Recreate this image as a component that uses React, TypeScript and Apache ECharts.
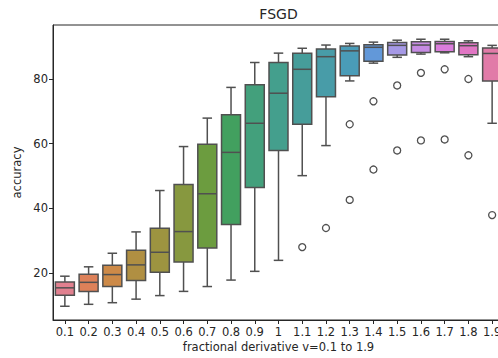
import React, { useEffect, useRef } from "react";
import * as echarts from "echarts";

const categories = ["0.1", "0.2", "0.3", "0.4", "0.5", "0.6", "0.7", "0.8", "0.9", "1", "1.1", "1.2", "1.3", "1.4", "1.5", "1.6", "1.7", "1.8", "1.9"];
const whiskerLow = [9.7, 10.3, 10.8, 11.9, 13.0, 14.3, 15.8, 17.8, 20.5, 23.9, 50.1, 59.4, 79.4, 84.9, 86.7, 87.7, 88.1, 86.9, 66.3];
const q1 = [13.1, 14.3, 15.8, 17.7, 20.2, 23.4, 27.7, 35.0, 46.4, 57.9, 66.0, 74.5, 81.0, 85.5, 87.4, 88.2, 88.4, 87.5, 79.4];
const median = [15.4, 17.1, 19.5, 22.5, 26.4, 32.8, 44.5, 57.3, 66.3, 75.6, 83.0, 86.9, 88.7, 89.8, 90.4, 90.5, 90.9, 90.3, 87.9];
const q3 = [17.2, 19.6, 22.4, 27.0, 33.8, 47.4, 59.8, 68.9, 78.2, 85.1, 88.0, 89.3, 90.2, 90.6, 91.3, 91.5, 91.6, 91.2, 89.6];
const whiskerHigh = [19.0, 21.9, 26.1, 32.7, 45.5, 59.1, 67.9, 77.4, 85.1, 88.0, 89.5, 90.5, 91.0, 91.4, 92.0, 92.3, 92.3, 91.8, 90.4];
const outlierCats = [10, 11, 12, 12, 13, 13, 14, 14, 15, 15, 16, 16, 17, 17, 18];
const outlierValues = [28.0, 33.9, 66.0, 42.6, 73.1, 52.0, 78.0, 57.9, 81.9, 61.0, 83.0, 61.3, 80.0, 56.4, 37.9];
const yTicks = [20, 40, 60, 80];
const boxColors = [
  "#e1808f", "#dd8159", "#cd8a48", "#b08f42", "#9d9440", "#87983f", "#6c9c3f", "#42a05f", "#43a07c", "#449f8d",
  "#469d9a", "#489ca8", "#4a9cb8", "#6298d9", "#a699e6", "#c68be3", "#db7ddc", "#e176c4", "#e17ba8",
];

const LINE = "#505050";
const TEXT = "#262626";
const FONT = "DejaVu Sans";

export default function App() {
  const ref = useRef<HTMLDivElement>(null);
  useEffect(() => {
    if (!ref.current) return;
    const chart = echarts.init(ref.current, undefined, { renderer: "svg" });
    const boxData = categories.map((_, i) => [i, whiskerLow[i], q1[i], median[i], q3[i], whiskerHigh[i]]);
    const outlierData = outlierCats.map((c, i) => [c, outlierValues[i]]);
    const option: any = {
      animation: false,
      grid: { left: 53, top: 25, width: 451, height: 295, show: true, borderColor: "#262626", borderWidth: 1, backgroundColor: "transparent" },
      xAxis: {
        type: "category",
        data: categories,
        boundaryGap: true,
        axisLine: { show: true, lineStyle: { color: "#262626", width: 1 } },
        axisTick: { show: true, alignWithLabel: true, length: 4, lineStyle: { color: "#262626" } },
        axisLabel: { interval: 0, color: TEXT, fontSize: 11.5, fontFamily: FONT, margin: 6, hideOverlap: false },
        splitLine: { show: false },
      },
      yAxis: {
        type: "value",
        min: 5.45,
        max: 96.7,
        axisLine: { show: true, lineStyle: { color: "#262626", width: 1 } },
        axisTick: { show: true, length: 4, customValues: yTicks, lineStyle: { color: "#262626" } },
        axisLabel: { customValues: yTicks, color: TEXT, fontSize: 11.5, fontFamily: FONT, margin: 5 },
        splitLine: { show: false },
      },
      series: [
        {
          type: "custom",
          data: boxData,
          encode: { x: 0, y: [1, 2, 3, 4, 5] },
          renderItem: (params: any, api: any) => {
            const idx = api.value(0);
            const pLo = api.coord([idx, api.value(1)]);
            const pQ1 = api.coord([idx, api.value(2)]);
            const pMed = api.coord([idx, api.value(3)]);
            const pQ3 = api.coord([idx, api.value(4)]);
            const pHi = api.coord([idx, api.value(5)]);
            const band = api.size([1, 0])[0];
            const bw = band * 0.8;
            const cw = bw / 2;
            const cx = pQ1[0];
            const ls = { stroke: LINE, lineWidth: 1.5, fill: "none" };
            return {
              type: "group",
              children: [
                { type: "line", shape: { x1: cx, y1: pQ1[1], x2: cx, y2: pLo[1] }, style: ls },
                { type: "line", shape: { x1: cx, y1: pQ3[1], x2: cx, y2: pHi[1] }, style: ls },
                { type: "line", shape: { x1: cx - cw / 2, y1: pLo[1], x2: cx + cw / 2, y2: pLo[1] }, style: ls },
                { type: "line", shape: { x1: cx - cw / 2, y1: pHi[1], x2: cx + cw / 2, y2: pHi[1] }, style: ls },
                {
                  type: "rect",
                  shape: { x: cx - bw / 2, y: pQ3[1], width: bw, height: pQ1[1] - pQ3[1] },
                  style: { fill: boxColors[idx], stroke: LINE, lineWidth: 1.5 },
                },
                { type: "line", shape: { x1: cx - bw / 2, y1: pMed[1], x2: cx + bw / 2, y2: pMed[1] }, style: ls },
              ],
            };
          },
        },
        {
          type: "scatter",
          data: outlierData,
          symbol: "circle",
          symbolSize: 7,
          itemStyle: { color: "#ffffff", borderColor: LINE, borderWidth: 1.3, opacity: 1 },
          z: 5,
        },
      ],
      graphic: [
        { type: "text", x: 278.5, y: 14, style: { text: "FSGD", fontSize: 14, fontFamily: FONT, fill: TEXT, textAlign: "center", textVerticalAlign: "middle" } },
        { type: "text", x: 278.5, y: 347, style: { text: "fractional derivative v=0.1 to 1.9", fontSize: 11.5, fontFamily: FONT, fill: TEXT, textAlign: "center", textVerticalAlign: "middle" } },
        { type: "text", x: 17, y: 172.5, rotation: Math.PI / 2, style: { text: "accuracy", fontSize: 11.5, fontFamily: FONT, fill: TEXT, textAlign: "center", textVerticalAlign: "middle" } },
      ],
    };
    chart.setOption(option);
    return () => chart.dispose();
  }, []);
  return (
    <div style={{ position: "fixed", left: 0, top: 0, width: 498, height: 358, overflow: "hidden", background: "#fff" }}>
      <div ref={ref} style={{ width: 520, height: 358 }} />
    </div>
  );
}
